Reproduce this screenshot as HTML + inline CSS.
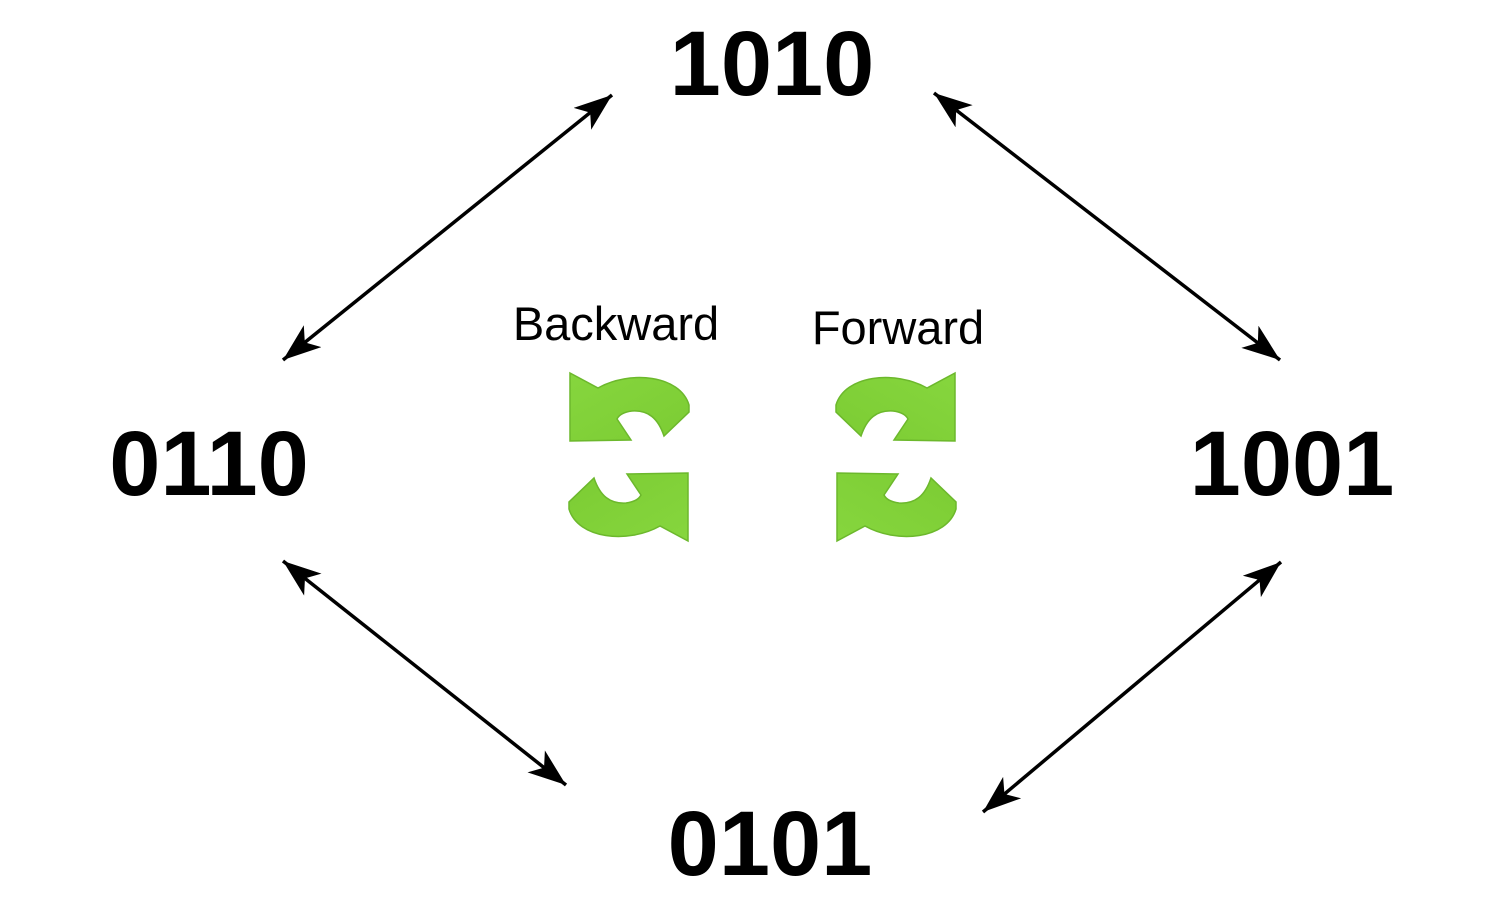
<!DOCTYPE html>
<html><head><meta charset="utf-8"><style>
html,body{margin:0;padding:0;background:#fff;}
svg{display:block;}
</style></head><body>
<svg width="1504" height="908" viewBox="0 0 1504 908" xmlns="http://www.w3.org/2000/svg">
<defs>
<marker id="a" markerWidth="44" markerHeight="32" refX="38" refY="14" orient="auto-start-reverse" markerUnits="userSpaceOnUse">
<path d="M38,14 L0,0 L10,14 L0,28 Z" fill="#000"/>
</marker>
<linearGradient id="g" x1="0" y1="0" x2="1" y2="1">
<stop offset="0" stop-color="#86d63e"/><stop offset="1" stop-color="#7ccc33"/>
</linearGradient>
<path id="ic" d="M570,373 L598,388 C630,370 680,375 689,405 L689,412 L664,436 C658,418 648,410 632,411 C624,412 619,415 617,419 L631,440 L570,441 Z" fill="url(#g)" stroke="#6cb82c" stroke-width="1.5"/>
</defs>
<g font-family="Liberation Sans, sans-serif" font-weight="bold" font-size="92" fill="#000" text-anchor="middle">
<text x="772" y="95">1010</text>
<text x="209" y="495">0110</text>
<text x="1292" y="495">1001</text>
<text x="770" y="875">0101</text>
</g>
<g font-family="Liberation Sans, sans-serif" font-size="47" fill="#000" text-anchor="middle">
<text x="616" y="340">Backward</text>
<text x="898" y="344">Forward</text>
</g>
<g stroke="#000" stroke-width="3.5" marker-start="url(#a)" marker-end="url(#a)">
<line x1="612" y1="95" x2="283" y2="360"/>
<line x1="934" y1="93" x2="1280" y2="360"/>
<line x1="283" y1="561" x2="566" y2="785"/>
<line x1="1281" y1="562" x2="983" y2="812"/>
</g>
<use href="#ic"/>
<use href="#ic" transform="rotate(180 629 457)"/>
<use href="#ic" transform="translate(1525 0) scale(-1 1)"/>
<use href="#ic" transform="translate(1525 0) scale(-1 1) rotate(180 629 457)"/>
</svg>
</body></html>
